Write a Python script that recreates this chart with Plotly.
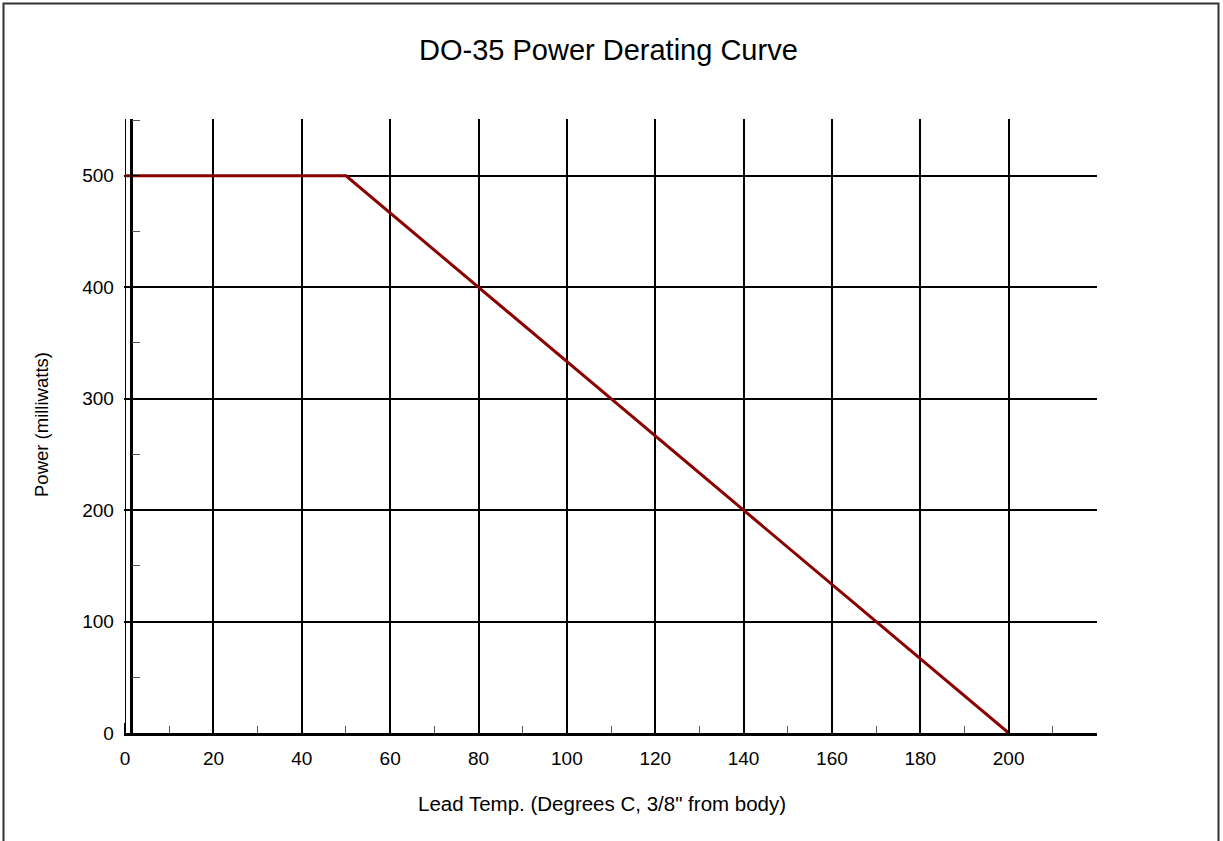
import plotly.graph_objects as go

# Data
temp_c = [0, 50, 200]
power_mw = [500, 500, 0]
x_tickvals = [0, 20, 40, 60, 80, 100, 120, 140, 160, 180, 200]
y_tickvals = [0, 100, 200, 300, 400, 500]

W, H = 1223, 841
L, R, T, B = 124, 126, 119, 108
PW, PH = W - L - R, H - T - B

def px_x(p):
    return (p - L) / PW

def px_y(p):
    return (H - B - p) / PH

FONT = "Arial, Liberation Sans, sans-serif"

fig = go.Figure()
fig.add_trace(go.Scatter(x=temp_c, y=power_mw, mode="lines",
                         line=dict(color="#8B0000", width=3), showlegend=False,
                         hoverinfo="x+y"))

fig.update_layout(
    width=W, height=H,
    margin=dict(l=L, r=R, t=T, b=B),
    paper_bgcolor="white", plot_bgcolor="white",
    font=dict(family=FONT, size=18, color="black"),
    showlegend=False,
    xaxis=dict(
        range=[-0.25, 220], tickvals=x_tickvals,
        showgrid=True, gridcolor="black", gridwidth=1.6,
        zeroline=True, zerolinecolor="black", zerolinewidth=1,
        showline=True, linecolor="black", linewidth=2.5,
        ticks="inside", ticklen=10, tickcolor="black", tickwidth=1.5,
        minor=dict(dtick=10, tick0=0, ticks="inside", ticklen=7,
                   tickcolor="#555", tickwidth=1, showgrid=False),
        ticklabelstandoff=6,
        tickfont=dict(size=19, family=FONT),
    ),
    yaxis=dict(
        range=[0, 551], tickvals=y_tickvals,
        showgrid=True, gridcolor="black", gridwidth=1.6,
        zeroline=False,
        anchor="free", position=6.5 / PW,
        showline=True, linecolor="black", linewidth=2.5,
        ticks="inside", ticklen=8, tickcolor="black", tickwidth=1,
        minor=dict(dtick=100, tick0=50, ticks="inside", ticklen=8,
                   tickcolor="#555", tickwidth=1, showgrid=False),
        ticklabelstandoff=12,
        tickfont=dict(size=19, family=FONT),
    ),
    shapes=[
        dict(type="rect", xref="paper", yref="paper",
             x0=px_x(3.5), x1=px_x(1218.5), y0=px_y(900), y1=px_y(3.5),
             line=dict(color="#333", width=2), fillcolor="rgba(0,0,0,0)",
             layer="below"),
    ],
    annotations=[
        dict(text="DO-35 Power Derating Curve", xref="paper", yref="paper",
             x=px_x(608), y=px_y(50), showarrow=False,
             xanchor="center", yanchor="middle",
             font=dict(size=29, family=FONT, color="black")),
        dict(text="Lead Temp. (Degrees C, 3/8\" from body)", xref="paper", yref="paper",
             x=px_x(602), y=px_y(803), showarrow=False,
             xanchor="center", yanchor="middle",
             font=dict(size=20.5, family=FONT, color="black")),
        dict(text="Power (milliwatts)", xref="paper", yref="paper",
             x=px_x(41), y=px_y(425), showarrow=False, textangle=-90,
             xanchor="center", yanchor="middle",
             font=dict(size=18.5, family=FONT, color="black")),
    ],
)

fig.write_html("out.html", config={"displayModeBar": False},
               post_script="document.body.style.margin='0';document.body.style.overflow='hidden';")
